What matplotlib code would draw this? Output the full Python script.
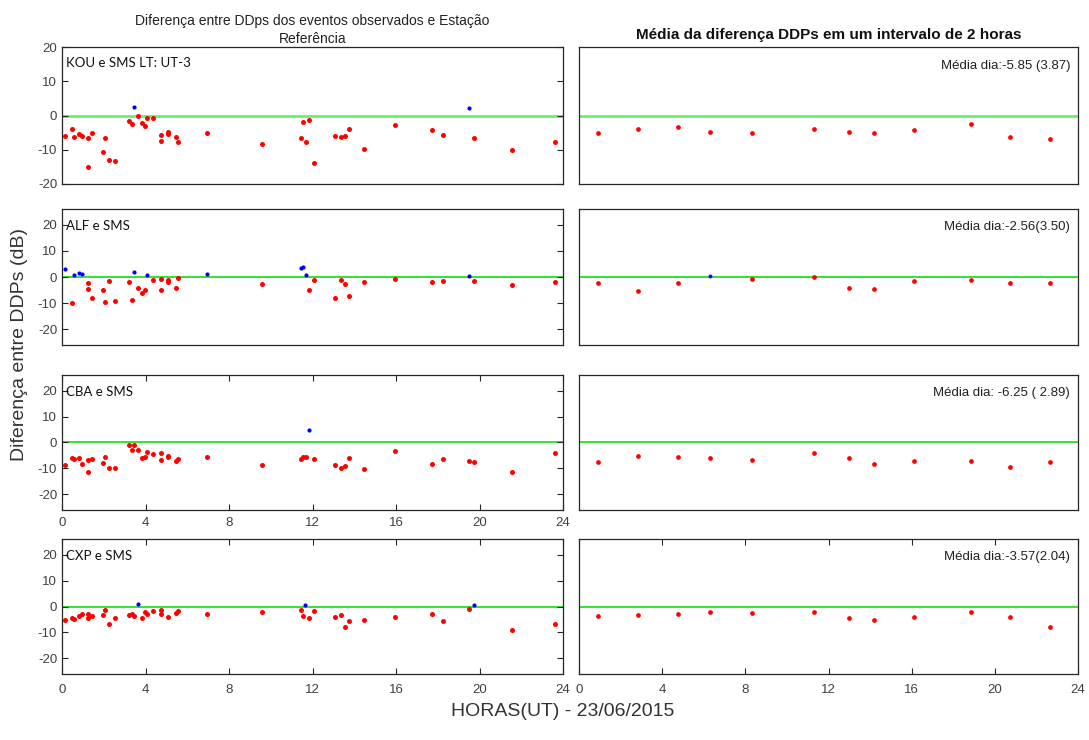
import matplotlib
matplotlib.use("Agg")
import matplotlib.pyplot as plt
import numpy as np

plt.rcParams['font.family'] = ['Liberation Sans', 'DejaVu Sans']

# ---------------- data: left panels (individual events) ----------------
# KOU e SMS
kou_red_h = [0.14, 0.46, 0.56, 0.83, 0.96, 1.26, 1.45, 1.26, 1.95, 2.04, 2.25, 2.55,
             3.23, 3.35, 3.64, 3.85, 3.96, 4.09, 4.34, 4.74, 4.76, 5.09, 5.09, 5.44, 5.56,
             6.95, 9.6, 11.45, 11.56, 11.67, 11.85, 12.06, 13.06, 13.35, 13.55, 13.76,
             14.47, 15.97, 17.72, 18.27, 19.75, 21.54, 23.63]
kou_red_v = [-5.9, -3.9, -6.3, -5.3, -6.1, -6.5, -5.2, -15.0, -10.7, -6.7, -13.0, -13.4,
             -1.6, -2.6, -0.1, -2.1, -3.2, -0.8, -0.7, -5.6, -7.4, -4.7, -5.5, -6.4, -7.7,
             -5.2, -8.3, -6.5, -1.8, -7.6, -1.4, -14.0, -5.9, -6.2, -6.0, -3.8,
             -9.7, -2.8, -4.3, -5.6, -6.6, -10.0, -7.8]
kou_blue_h = [3.45, 19.48]
kou_blue_v = [2.4, 2.3]

# ALF e SMS
alf_red_h = [0.46, 1.26, 1.26, 1.45, 1.95, 2.04, 2.25, 2.55, 3.23, 3.35, 3.64, 3.85, 3.96,
             4.34, 4.74, 4.76, 5.09, 5.09, 5.44, 5.56, 9.6, 11.85, 12.06, 13.06, 13.35,
             13.55, 13.76, 14.47, 15.97, 17.72, 18.27, 19.75, 21.54, 23.63]
alf_red_v = [-9.9, -2.3, -4.4, -7.9, -5.1, -9.5, -1.7, -9.2, -2.1, -8.9, -4.1, -6.3, -5.0,
             -1.0, -5.0, -0.9, -1.2, -1.9, -4.1, -0.5, -2.7, -5.0, -1.0, -7.9, -1.3,
             -2.6, -7.4, -1.8, -0.8, -1.8, -1.4, -1.5, -3.0, -1.8]
alf_blue_h = [0.14, 0.56, 0.83, 0.96, 3.45, 4.09, 6.95, 11.45, 11.56, 11.67, 19.48]
alf_blue_v = [3.2, 0.6, 1.4, 1.0, 2.1, 0.6, 1.3, 3.3, 3.7, 0.8, 0.5]

# CBA e SMS
cba_red_h = [0.14, 0.46, 0.56, 0.83, 0.96, 1.26, 1.26, 1.45, 1.95, 2.04, 2.25, 2.55,
             3.23, 3.45, 3.35, 3.64, 3.85, 3.96, 4.09, 4.34, 4.74, 4.76, 5.09, 5.09,
             5.44, 5.56, 6.95, 9.6, 11.45, 11.56, 11.67, 12.06, 13.06, 13.35, 13.55,
             13.76, 14.47, 15.97, 17.72, 18.27, 19.48, 19.75, 21.54, 23.63]
cba_red_v = [-8.6, -6.0, -6.5, -6.0, -8.3, -6.9, -11.3, -6.3, -7.8, -5.4, -10.0, -9.7,
             -0.9, -0.9, -2.8, -2.9, -6.1, -5.6, -3.8, -4.6, -4.1, -6.8, -5.1, -5.6,
             -7.0, -6.4, -5.5, -8.6, -6.4, -5.5, -5.6, -6.4, -8.6, -9.7, -9.1,
             -6.0, -10.1, -3.2, -8.3, -6.5, -7.0, -7.6, -11.4, -4.0]
cba_blue_h = [11.85]
cba_blue_v = [4.8]

# CXP e SMS
cxp_red_h = [0.14, 0.46, 0.56, 0.83, 0.96, 1.26, 1.26, 1.45, 1.95, 2.04, 2.25, 2.55,
             3.23, 3.35, 3.45, 3.85, 3.96, 4.09, 4.34, 4.74, 4.76, 5.09, 5.44, 5.56,
             6.95, 9.6, 11.45, 11.56, 11.85, 12.06, 13.06, 13.35, 13.55, 13.76, 14.47,
             15.97, 17.72, 18.27, 19.48, 21.54, 23.63]
cxp_red_v = [-5.2, -4.5, -5.0, -3.5, -2.7, -2.7, -4.5, -3.6, -3.3, -1.4, -6.8, -4.6,
             -3.3, -2.7, -3.8, -4.5, -2.2, -2.7, -1.7, -1.3, -2.7, -4.0, -2.4, -1.8,
             -2.9, -2.0, -1.4, -3.7, -4.5, -1.8, -4.0, -3.2, -8.0, -5.4, -5.1,
             -4.2, -2.9, -5.7, -0.8, -9.2, -6.7]
cxp_blue_h = [3.64, 11.65, 19.75]
cxp_blue_v = [0.9, 0.5, 0.5]

# ---------------- data: right panels (2-hour means) ----------------
mean_h = [0.90, 2.82, 4.75, 6.30, 8.34, 11.29, 12.99, 14.19, 16.11, 18.87, 20.73, 22.66]
kou_mean = [-5.1, -4.0, -3.3, -4.9, -5.1, -3.8, -4.7, -5.1, -4.2, -2.6, -6.3, -6.8]
alf_mean = [-2.3, -5.4, -2.4, 0.4, -0.8, -0.1, -4.2, -4.6, -1.4, -1.0, -2.2, -2.4]
cba_mean = [-7.4, -5.2, -5.5, -5.9, -6.9, -4.2, -5.8, -8.1, -7.2, -7.3, -9.5, -7.7]
cxp_mean = [-3.8, -3.2, -2.7, -2.3, -2.4, -2.2, -4.3, -5.2, -4.0, -2.2, -4.2, -7.8]

panel_labels = ["KOU e SMS LT: UT-3", "ALF e SMS", "CBA e SMS", "CXP e SMS"]
mean_labels = ["Média dia:-5.85 (3.87)", "Média dia:-2.56(3.50)",
               "Média dia: -6.25 ( 2.89)", "Média dia:-3.57(2.04)"]
xticks = [0, 4, 8, 12, 16, 20, 24]
yticks = [-20, -10, 0, 10, 20]

left_data = [
    (kou_red_h, kou_red_v, kou_blue_h, kou_blue_v),
    (alf_red_h, alf_red_v, alf_blue_h, alf_blue_v),
    (cba_red_h, cba_red_v, cba_blue_h, cba_blue_v),
    (cxp_red_h, cxp_red_v, cxp_blue_h, cxp_blue_v),
]
right_data = [kou_mean, alf_mean, cba_mean, cxp_mean]

# ---------------- figure ----------------
W, H = 1089, 740
fig = plt.figure(figsize=(W / 100, H / 100), dpi=100)

def frac(x0, y0, x1, y1):
    return [x0 / W, 1 - y1 / H, (x1 - x0) / W, (y1 - y0) / H]

rows_px = [(47, 184), (209, 345), (375, 510), (539, 674)]
ylims = [(-20, 20), (-26, 26), (-26, 26), (-26, 26)]
tick_col = '#404040'
spine_col = '#262626'

for i in range(4):
    y0, y1 = rows_px[i]
    axL = fig.add_axes(frac(62, y0, 563, y1))
    axR = fig.add_axes(frac(579, y0, 1078, y1))
    rh, rv, bh, bv = left_data[i]
    gcol = '#66f466' if i == 0 else '#22e022'
    glw = 2.0 if i == 0 else 1.3
    for ax in (axL, axR):
        ax.axhline(0, color=gcol, lw=glw, zorder=1)
        ax.set_xlim(0, 24)
        ax.set_ylim(*ylims[i])
        for s in ax.spines.values():
            s.set_color(spine_col)
            s.set_linewidth(0.9)
        ax.tick_params(direction='in', colors=spine_col, labelcolor=tick_col,
                       labelsize=9.5, length=4, width=0.8,
                       top=True, right=True)
        ax.tick_params(axis='x', pad=7 if i == 3 else 5)
    axL.plot(rh, rv, 'o', color='red', ms=3.6, mew=0, zorder=3)
    axL.plot(bh, bv, 'o', color='blue', ms=3.0, mew=0, zorder=3)
    m = right_data[i]
    red_idx = [k for k in range(len(m)) if m[k] <= 0]
    blue_idx = [k for k in range(len(m)) if m[k] > 0]
    axR.plot([mean_h[k] for k in red_idx], [m[k] for k in red_idx], 'o',
             color='red', ms=3.4, mew=0, zorder=3)
    axR.plot([mean_h[k] for k in blue_idx], [m[k] for k in blue_idx], 'o',
             color='blue', ms=2.8, mew=0, zorder=3)

    axL.set_yticks(yticks)
    axL.set_yticklabels([str(t) for t in yticks])
    axR.set_yticks([])
    # x ticks
    if i in (0, 1):
        axL.set_xticks([])
    else:
        axL.set_xticks(xticks)
        axL.set_xticklabels([str(t) for t in xticks])
    if i == 3:
        axR.set_xticks(xticks)
        axR.set_xticklabels([str(t) for t in xticks])
    else:
        axR.set_xticks([])

    axL.text(0.008, 0.885 if i == 0 else 0.875, panel_labels[i], transform=axL.transAxes,
             ha='left', va='center', fontsize=9.5, family=['Lato', 'DejaVu Sans'],
             color='#111111')
    axR.text(0.984, 0.86 if i == 0 else 0.87, mean_labels[i], transform=axR.transAxes,
             ha='right', va='center', fontsize=9.5, color='#222222')

    if i == 0:
        axL.set_title("Diferença entre DDps dos eventos observados e Estação\nReferência",
                      fontsize=10, color='#222222', pad=3, linespacing=1.35)
        axR.set_title("Média da diferença DDPs em um intervalo de 2 horas",
                      fontsize=11, fontweight='bold', color='#111111', pad=6)

fig.text(0.018, 0.535, "Diferença entre DDPs (dB)", rotation=90, ha='center',
         va='center', fontsize=14, color='#333333')
fig.text(0.517, 0.038, "HORAS(UT) - 23/06/2015", ha='center', va='center',
         fontsize=14, color='#333333')

fig.savefig("out.png", dpi=100)
